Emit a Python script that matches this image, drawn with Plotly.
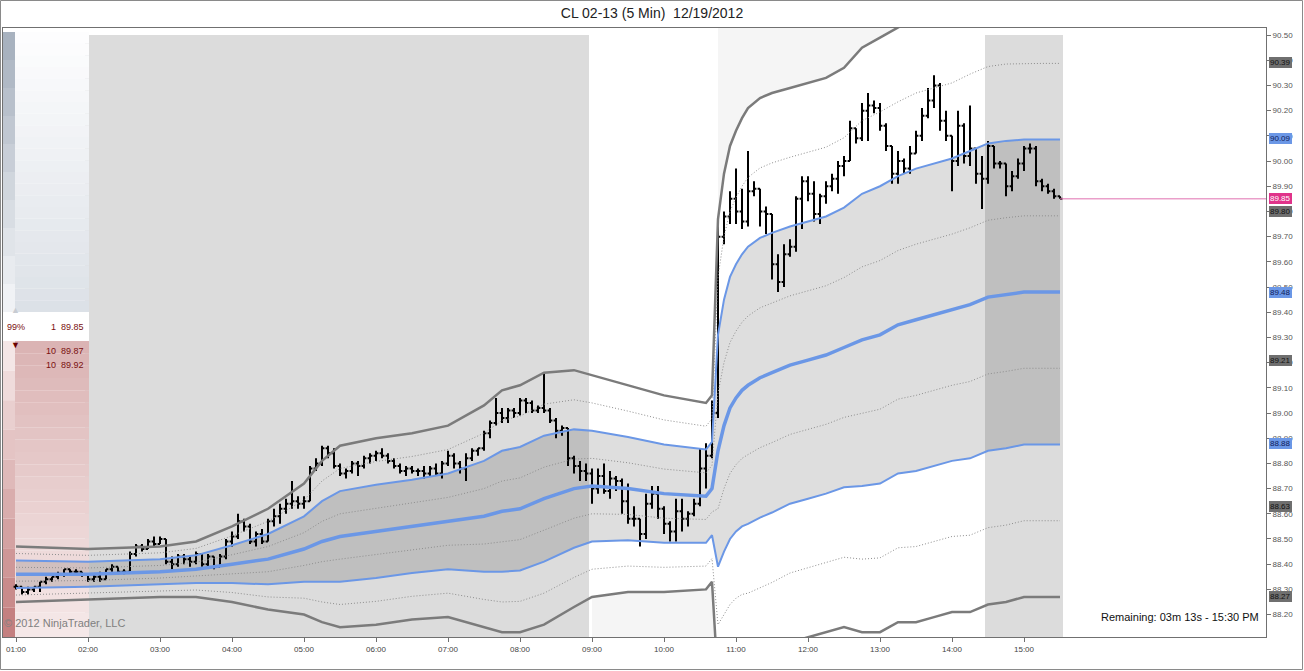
import pandas as pd
import plotly.graph_objects as go

# ---- chart data ----
title_text = "CL 02-13 (5 Min)\u00a0 12/19/2012"
session_day = "2012-12-19"
first_bar = "01:00"

bar_open = [
    88.31, 88.31, 88.29, 88.30, 88.31, 88.33, 88.34, 88.35, 88.36, 88.38, 88.37, 88.37,
    88.36, 88.34, 88.35, 88.34, 88.38, 88.39, 88.37, 88.37, 88.44, 88.47, 88.46, 88.49,
    88.48, 88.50, 88.41, 88.40, 88.43, 88.42, 88.41, 88.44, 88.40, 88.43, 88.39, 88.43,
    88.49, 88.51, 88.57, 88.55, 88.49, 88.52, 88.49, 88.57, 88.59, 88.62, 88.64, 88.65,
    88.64, 88.65, 88.78, 88.80, 88.86, 88.84, 88.79, 88.76, 88.77, 88.80, 88.79, 88.82,
    88.83, 88.84, 88.83, 88.81, 88.79, 88.77, 88.78, 88.77, 88.77, 88.76, 88.78, 88.76,
    88.80, 88.83, 88.80, 88.78, 88.82, 88.85, 88.86, 88.92, 88.96, 89.00, 88.98, 89.01,
    89.00, 89.05, 89.04, 89.01, 89.02, 89.01, 88.97, 88.93, 88.94, 88.82, 88.79, 88.77,
    88.76, 88.70, 88.75, 88.69, 88.74, 88.73, 88.65, 88.58, 88.58, 88.52, 88.64, 88.68,
    88.62, 88.56, 88.53, 88.61, 88.58, 88.60, 88.64, 88.78, 88.83, 89.00, 89.70, 89.78,
    89.85, 89.80, 89.76, 89.88, 89.89, 89.80, 89.79, 89.59, 89.52, 89.63, 89.66, 89.85,
    89.92, 89.87, 89.79, 89.86, 89.90, 89.93, 89.98, 90.00, 90.13, 90.09, 90.20, 90.22,
    90.21, 90.14, 90.06, 89.95, 90.00, 89.97, 90.03, 90.10, 90.18, 90.24, 90.30, 90.16,
    90.10, 90.00, 90.14, 90.02, 90.05, 89.95, 89.93, 90.06, 89.99, 89.99, 89.90, 89.94,
    89.99, 90.05, 90.05, 89.92, 89.90, 89.88, 89.86,
]
bar_high = [
    88.32, 88.31, 88.31, 88.31, 88.33, 88.35, 88.35, 88.37, 88.38, 88.38, 88.38, 88.37,
    88.36, 88.36, 88.37, 88.38, 88.40, 88.39, 88.38, 88.45, 88.48, 88.48, 88.50, 88.51,
    88.51, 88.50, 88.43, 88.44, 88.44, 88.43, 88.45, 88.44, 88.44, 88.43, 88.44, 88.50,
    88.53, 88.60, 88.58, 88.56, 88.53, 88.54, 88.58, 88.62, 88.64, 88.66, 88.73, 88.67,
    88.67, 88.79, 88.82, 88.87, 88.87, 88.86, 88.80, 88.78, 88.81, 88.81, 88.83, 88.84,
    88.85, 88.86, 88.84, 88.82, 88.80, 88.79, 88.79, 88.78, 88.79, 88.79, 88.80, 88.81,
    88.85, 88.84, 88.81, 88.84, 88.86, 88.86, 88.93, 88.97, 89.06, 89.02, 89.02, 89.02,
    89.06, 89.06, 89.05, 89.03, 89.16, 89.02, 88.98, 88.95, 88.94, 88.83, 88.81, 88.80,
    88.78, 88.78, 88.80, 88.77, 88.75, 88.74, 88.72, 88.63, 88.58, 88.68, 88.71, 88.71,
    88.63, 88.57, 88.66, 88.66, 88.61, 88.66, 88.86, 88.88, 89.05, 89.77, 89.80, 89.88,
    89.97, 89.89, 90.04, 89.92, 89.89, 89.82, 89.79, 89.63, 89.67, 89.69, 89.86, 89.94,
    89.94, 89.92, 89.87, 89.92, 89.95, 90.00, 90.02, 90.16, 90.13, 90.23, 90.27, 90.24,
    90.23, 90.15, 90.06, 90.04, 90.01, 90.06, 90.12, 90.21, 90.29, 90.34, 90.31, 90.20,
    90.10, 90.20, 90.15, 90.22, 90.05, 90.02, 90.08, 90.06, 90.00, 89.99, 89.96, 90.01,
    90.06, 90.07, 90.06, 89.93, 89.91, 89.89, 89.86,
]
bar_low = [
    88.30, 88.28, 88.28, 88.29, 88.29, 88.32, 88.33, 88.34, 88.35, 88.36, 88.36, 88.35,
    88.33, 88.33, 88.33, 88.34, 88.37, 88.36, 88.36, 88.37, 88.43, 88.45, 88.46, 88.47,
    88.48, 88.40, 88.38, 88.39, 88.40, 88.39, 88.40, 88.39, 88.39, 88.38, 88.39, 88.42,
    88.47, 88.50, 88.53, 88.48, 88.47, 88.48, 88.49, 88.55, 88.56, 88.60, 88.62, 88.62,
    88.62, 88.65, 88.77, 88.79, 88.82, 88.78, 88.75, 88.74, 88.76, 88.75, 88.78, 88.80,
    88.81, 88.82, 88.80, 88.78, 88.76, 88.75, 88.76, 88.75, 88.74, 88.75, 88.75, 88.74,
    88.79, 88.78, 88.76, 88.73, 88.81, 88.83, 88.85, 88.90, 88.95, 88.96, 88.96, 88.98,
    88.99, 89.00, 89.00, 89.00, 89.00, 88.96, 88.90, 88.91, 88.79, 88.76, 88.73, 88.73,
    88.64, 88.68, 88.68, 88.66, 88.69, 88.60, 88.56, 88.55, 88.47, 88.50, 88.62, 88.58,
    88.52, 88.49, 88.49, 88.53, 88.55, 88.59, 88.63, 88.70, 88.82, 88.98, 89.67, 89.75,
    89.75, 89.73, 89.74, 89.86, 89.74, 89.71, 89.53, 89.48, 89.50, 89.62, 89.64, 89.73,
    89.84, 89.76, 89.75, 89.83, 89.88, 89.87, 89.94, 90.00, 90.07, 90.08, 90.08, 90.19,
    90.12, 90.04, 89.91, 89.91, 89.95, 89.95, 90.03, 90.08, 90.17, 90.21, 90.12, 90.08,
    89.88, 89.98, 89.99, 89.98, 89.91, 89.81, 89.91, 89.97, 89.97, 89.86, 89.88, 89.93,
    89.96, 90.03, 89.90, 89.88, 89.87, 89.85, 89.85,
]
bar_close = [
    88.31, 88.29, 88.30, 88.31, 88.33, 88.34, 88.35, 88.36, 88.38, 88.37, 88.37, 88.36,
    88.34, 88.35, 88.34, 88.38, 88.39, 88.37, 88.37, 88.44, 88.47, 88.46, 88.49, 88.48,
    88.50, 88.41, 88.40, 88.43, 88.42, 88.41, 88.44, 88.40, 88.43, 88.39, 88.43, 88.49,
    88.51, 88.57, 88.55, 88.49, 88.52, 88.49, 88.57, 88.59, 88.62, 88.64, 88.65, 88.64,
    88.65, 88.78, 88.80, 88.86, 88.84, 88.79, 88.76, 88.77, 88.80, 88.79, 88.82, 88.83,
    88.84, 88.83, 88.81, 88.79, 88.77, 88.78, 88.77, 88.77, 88.76, 88.78, 88.76, 88.80,
    88.83, 88.80, 88.78, 88.82, 88.85, 88.86, 88.92, 88.96, 89.00, 88.98, 89.01, 89.00,
    89.05, 89.04, 89.01, 89.02, 89.01, 88.97, 88.93, 88.94, 88.82, 88.79, 88.77, 88.76,
    88.70, 88.75, 88.69, 88.74, 88.73, 88.65, 88.58, 88.58, 88.52, 88.64, 88.68, 88.62,
    88.56, 88.53, 88.61, 88.58, 88.60, 88.64, 88.78, 88.83, 89.00, 89.70, 89.78, 89.85,
    89.80, 89.76, 89.88, 89.89, 89.80, 89.79, 89.59, 89.52, 89.63, 89.66, 89.85, 89.92,
    89.87, 89.79, 89.86, 89.90, 89.93, 89.98, 90.00, 90.13, 90.09, 90.20, 90.22, 90.21,
    90.14, 90.06, 89.95, 90.00, 89.97, 90.03, 90.10, 90.18, 90.24, 90.30, 90.16, 90.10,
    90.00, 90.14, 90.02, 90.05, 89.95, 89.93, 90.06, 89.99, 89.99, 89.90, 89.94, 89.99,
    90.05, 90.05, 89.92, 89.90, 89.88, 89.86, 89.85,
]

# VWAP centre line and standard deviation, sampled along the session
band_times = [
    "01:00", "02:00", "03:00", "03:30", "04:00", "04:30", "05:00", "05:15", "05:30",
    "06:00", "06:30", "07:00", "07:30", "07:45", "08:00", "08:20", "08:45", "09:00",
    "09:30", "10:00", "10:35", "10:40", "10:45", "10:50", "10:55", "11:00", "11:05",
    "11:10", "11:20", "11:30", "11:45", "12:00", "12:15", "12:30", "12:45", "13:00",
    "13:15", "13:30", "13:45", "14:00", "14:15", "14:30", "14:45", "15:00", "15:15",
    "15:30",
]
vwap = [
    88.36, 88.36, 88.37, 88.38, 88.40, 88.42, 88.46, 88.49, 88.51,
    88.53, 88.55, 88.57, 88.59, 88.61, 88.62, 88.66, 88.70, 88.71,
    88.70, 88.68, 88.67, 88.70, 88.85, 88.95, 89.02, 89.06, 89.09,
    89.11, 89.14, 89.16, 89.19, 89.21, 89.23, 89.26, 89.29, 89.31,
    89.35, 89.37, 89.39, 89.41, 89.43, 89.46, 89.47, 89.48, 89.48,
    89.48,
]
sigma = [
    0.055, 0.050, 0.050, 0.055, 0.075, 0.100, 0.130, 0.160, 0.180,
    0.185, 0.185, 0.190, 0.220, 0.240, 0.245, 0.250, 0.235, 0.220,
    0.205, 0.195, 0.185, 0.185, 0.460, 0.500, 0.520, 0.530, 0.540,
    0.550, 0.555, 0.555, 0.550, 0.550, 0.550, 0.555, 0.580, 0.590,
    0.590, 0.600, 0.600, 0.600, 0.610, 0.610, 0.610, 0.605, 0.605,
    0.605,
]

# price markers on the right axis
tag_values = [90.39, 90.09, 89.85, 89.80, 89.48, 89.21, 88.88, 88.63, 88.27]
tag_kinds = ["gray", "blue", "last", "gray", "blue", "gray", "blue", "gray", "gray"]

hour_labels = ["01:00", "02:00", "03:00", "04:00", "05:00", "06:00", "07:00", "08:00",
               "09:00", "10:00", "11:00", "12:00", "13:00", "14:00", "15:00"]
shaded_sessions = [("01:57:30", "08:57:30"), ("14:27:30", "15:32:30")]
# stretches where the area outside the outer band is lightly tinted
upper_tint = ("10:45", "15:30")
lower_tint = ("09:00", "10:45")

ladder_pct = "99%"
ladder_rows = [("1", "89.85"), ("10", "89.87"), ("10", "89.92")]
remaining_text = "Remaining: 03m 13s - 15:30 PM"
copyright_text = "\u00a9 2012 NinjaTrader, LLC"

# ---- helpers ----
W, H = 1304, 671
ML, MR, MT, MB = 3, 38, 28, 34
PW, PH = W - ML - MR, H - MT - MB
Y_RANGE = [88.111, 90.528]


def px_x(px):
    return (px - ML) / PW


def px_y(py):
    return (H - MB - py) / PH


def day(t):
    return pd.Timestamp(f"{session_day} {t}")


def mix(c1, c2, f):
    return "rgb({},{},{})".format(*[round(a + (b - a) * f) for a, b in zip(c1, c2)])


bar_times = pd.date_range(day(first_bar), periods=len(bar_close), freq="5min")
bt = [day(t) for t in band_times]


def band(k):
    return [v + k * s for v, s in zip(vwap, sigma)]


fig = go.Figure()

# light tint outside the outer band
for (a, b), k, edge in [(upper_tint, 2, Y_RANGE[1]), (lower_tint, -2, Y_RANGE[0])]:
    i0, i1 = band_times.index(a), band_times.index(b) + 1
    xs = bt[i0:i1]
    ys = band(k)[i0:i1]
    fig.add_trace(go.Scatter(x=xs + xs[::-1], y=ys + [edge] * len(xs), mode="lines",
                             line=dict(width=0), fill="toself", fillcolor="rgba(0,0,0,0.04)",
                             hoverinfo="skip", showlegend=False))

# filled +-1 sigma zone
fig.add_trace(go.Scatter(x=bt, y=band(-1), mode="lines",
                         line=dict(width=0), hoverinfo="skip", showlegend=False))
fig.add_trace(go.Scatter(x=bt, y=band(1), mode="lines",
                         line=dict(width=0), fill="tonexty", fillcolor="rgba(0,0,0,0.13)",
                         hoverinfo="skip", showlegend=False))

band_styles = {
    2: dict(color="#7b7b7b", width=2.5),
    1.5: dict(color="#8e8e8e", width=1, dash="1px,2px"),
    1: dict(color="#6b97e6", width=2),
    0.5: dict(color="#8e8e8e", width=1, dash="1px,2px"),
    0: dict(color="#6b97e6", width=3.5),
}
for k in [2, 1.5, 1, 0.5, 0, -0.5, -1, -1.5, -2]:
    fig.add_trace(go.Scatter(x=bt, y=band(k), mode="lines", line=band_styles[abs(k)],
                             hoverinfo="skip", showlegend=False))

# current price line
x_end = day("18:21:40")
fig.add_trace(go.Scatter(x=[bar_times[-1], x_end], y=[bar_close[-1]] * 2, mode="lines",
                         line=dict(color="#e070b0", width=1), hoverinfo="skip",
                         showlegend=False))

fig.add_trace(go.Ohlc(
    x=bar_times, open=bar_open, high=bar_high, low=bar_low, close=bar_close,
    increasing=dict(line=dict(color="black", width=2)),
    decreasing=dict(line=dict(color="black", width=2)),
    tickwidth=0.4, showlegend=False))

shapes = []
for a, b in shaded_sessions:
    shapes.append(dict(type="rect", xref="x", yref="paper", x0=day(a), x1=day(b),
                       y0=0, y1=px_y(35), fillcolor="#dcdcdc", line_width=0, layer="below"))

# chart trader ladder panel on the left
n = 24
top_blue, bot_blue = (253, 253, 254), (219, 224, 230)
for i in range(n):
    y0 = 32 + (312 - 32) * i / n
    y1 = 32 + (312 - 32) * (i + 1) / n
    shapes.append(dict(type="rect", xref="paper", yref="paper", x0=px_x(15), x1=px_x(89),
                       y0=px_y(y1), y1=px_y(y0), fillcolor=mix(top_blue, bot_blue, i / n),
                       line_width=0, layer="below"))
top_red, bot_red = (219, 180, 180), (246, 234, 234)
for i in range(n):
    y0 = 341 + (637 - 341) * i / n
    y1 = 341 + (637 - 341) * (i + 1) / n
    shapes.append(dict(type="rect", xref="paper", yref="paper", x0=px_x(15), x1=px_x(89),
                       y0=px_y(y1), y1=px_y(y0), fillcolor=mix(top_red, bot_red, i / n),
                       line_width=0, layer="below"))
shapes.append(dict(type="rect", xref="paper", yref="paper", x0=0, x1=px_x(89),
                   y0=px_y(341), y1=px_y(312), fillcolor="white", line_width=0, layer="below"))
nb = 10
for i in range(nb):
    y0 = 32 + 28 * i
    shapes.append(dict(type="rect", xref="paper", yref="paper", x0=0, x1=px_x(15),
                       y0=px_y(y0 + 28), y1=px_y(y0),
                       fillcolor=mix((168, 178, 191), (240, 242, 245), i / (nb - 1)),
                       line_width=0, layer="below"))
nr = 10
for i in range(nr):
    y0 = 341 + 29.6 * i
    shapes.append(dict(type="rect", xref="paper", yref="paper", x0=0, x1=px_x(15),
                       y0=px_y(y0 + 29.6), y1=px_y(y0),
                       fillcolor=mix((244, 230, 230), (196, 128, 128), i / (nr - 1)),
                       line_width=0, layer="below"))
# outer frame of the image
shapes.append(dict(type="rect", xref="paper", yref="paper", x0=px_x(0.5), x1=px_x(1302.5),
                   y0=px_y(669.5), y1=px_y(0.5), line=dict(color="#8a8a8a", width=1)))

annotations = []
tag_colors = {"gray": ("#6f6f6f", "#111111"), "blue": ("#6b97e6", "#10205a"),
              "last": ("#e0338a", "#ffffff")}
for v, kind in zip(tag_values, tag_kinds):
    bg, fg = tag_colors[kind]
    annotations.append(dict(x=1, xref="paper", y=v, yref="y", xanchor="left", xshift=3,
                            text=f"{v:.2f}", showarrow=False, bgcolor=bg, bordercolor=bg,
                            borderpad=0, font=dict(size=8, color=fg,
                                                   family="Liberation Sans")))

red = "#7a1010"
annotations.append(dict(x=px_x(5), xref="paper", y=px_y(327), yref="paper", xanchor="left",
                        text=ladder_pct, showarrow=False,
                        font=dict(size=9, color=red, family="Liberation Sans")))
for j, (qty, price) in enumerate(ladder_rows):
    ry = 327 if j == 0 else 351 + 14 * (j - 1)
    annotations.append(dict(x=px_x(86), xref="paper", y=px_y(ry), yref="paper",
                            xanchor="right", text=f"{qty}\u00a0 {price}", showarrow=False,
                            font=dict(size=9, color=red, family="Liberation Sans")))
annotations.append(dict(x=px_x(9), xref="paper", y=px_y(345), yref="paper", text="\u25bc",
                        showarrow=False, font=dict(size=9, color="#6a0000")))
annotations.append(dict(x=px_x(9), xref="paper", y=px_y(309), yref="paper", text="\u25b2",
                        showarrow=False, font=dict(size=9, color="#c8ccd2")))
annotations.append(dict(x=px_x(1261), xref="paper", y=px_y(625), yref="paper",
                        xanchor="right", text=remaining_text, showarrow=False,
                        font=dict(size=11, color="#111111", family="Liberation Sans")))
annotations.append(dict(x=px_x(2), xref="paper", y=px_y(631), yref="paper",
                        xanchor="left", text=copyright_text, showarrow=False,
                        font=dict(size=11, color="#808080", family="Liberation Sans")))

fig.update_layout(
    width=W, height=H,
    margin=dict(l=ML, r=MR, t=MT, b=MB),
    paper_bgcolor="white", plot_bgcolor="white",
    title=dict(text=title_text, x=0.5, xanchor="center", y=1 - 13 / H, yanchor="middle",
               font=dict(size=14, color="#222222", family="Liberation Sans")),
    shapes=shapes, annotations=annotations, showlegend=False,
    xaxis=dict(range=[day("00:49:10"), x_end], rangeslider=dict(visible=False),
               showgrid=False, zeroline=False, showline=True, mirror=True,
               linecolor="#707070", linewidth=1, ticks="outside", ticklen=4,
               tickcolor="#707070", tickvals=[day(h) for h in hour_labels],
               ticktext=hour_labels, tickfont=dict(size=8, color="#444444",
                                                   family="Liberation Sans")),
    yaxis=dict(range=Y_RANGE, side="right", showgrid=False, zeroline=False,
               showline=True, mirror=True, linecolor="#707070", linewidth=1,
               ticks="outside", ticklen=4, tickcolor="#707070", tick0=88.2, dtick=0.1,
               tickformat=".2f", tickfont=dict(size=8, color="#555555",
                                               family="Liberation Sans")),
)

fig.write_html("out.html", config={"displayModeBar": False},
               post_script="document.body.style.margin = '0';")
